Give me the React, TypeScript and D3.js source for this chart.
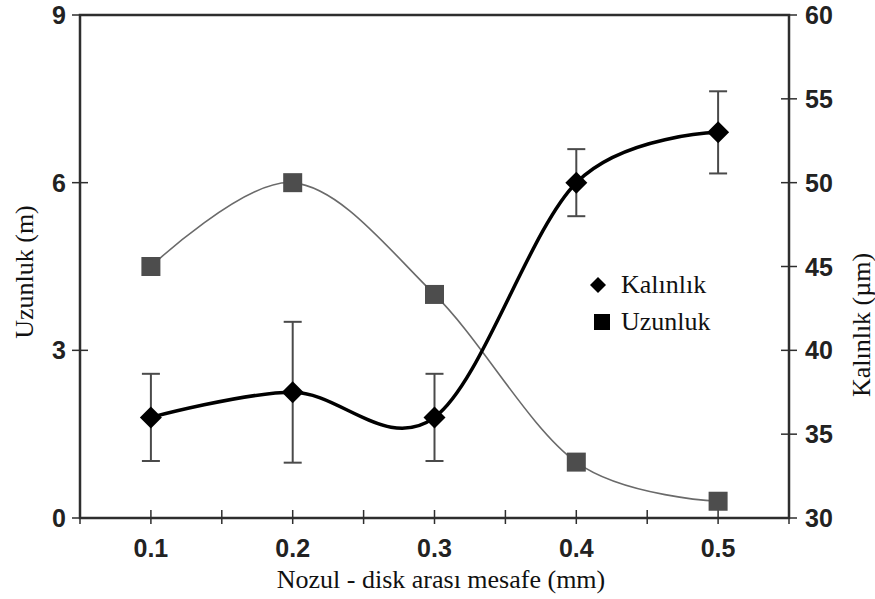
import React from "react";
import * as d3 from "d3";

// Nozzle–disk distance (mm)
const distances = [0.1, 0.2, 0.3, 0.4, 0.5];
// Fibre length (m), left axis
const uzunluk = [4.5, 6.0, 4.0, 1.0, 0.3];
// Fibre thickness (µm), right axis, with error bars
const kalinlik = [36, 37.5, 36, 50, 53];
const kalinlikErr = [2.6, 4.2, 2.6, 2.0, 2.45];

const xTicks = [0.05, 0.1, 0.15, 0.2, 0.25, 0.3, 0.35, 0.4, 0.45, 0.5, 0.55];
const xLabels = [0.1, 0.2, 0.3, 0.4, 0.5];
const leftTicks = [0, 3, 6, 9];
const rightTicks = [30, 35, 40, 45, 50, 55, 60];

const W = 875;
const H = 599;
const left = 80;
const right = 789;
const top = 15;
const bottom = 518;

const sansBold = "'Liberation Sans', Arial, sans-serif";
const serif = "'Liberation Serif', 'Times New Roman', serif";

export default function App() {
  const x = d3.scaleLinear().domain([0.05, 0.55]).range([left, right]);
  const yL = d3.scaleLinear().domain([0, 9]).range([bottom, top]);
  const yR = d3.scaleLinear().domain([30, 60]).range([bottom, top]);

  const uzLine = d3
    .line<number>()
    .x((_, i) => x(distances[i]))
    .y((d) => yL(d))
    .curve(d3.curveCardinal.tension(0));

  const kaLine = d3
    .line<number>()
    .x((_, i) => x(distances[i]))
    .y((d) => yR(d))
    .curve(d3.curveCardinal.tension(0));

  const diamond = (cx: number, cy: number, r: number) =>
    `M${cx},${cy - r}L${cx + r},${cy}L${cx},${cy + r}L${cx - r},${cy}Z`;

  const axisColor = "#2e2e2e";
  const tickLen = 8;

  return (
    <svg
      width={W}
      height={H}
      style={{ position: "absolute", left: 0, top: 0, background: "#fff" }}
    >
      {/* plot frame */}
      <rect
        x={left}
        y={top}
        width={right - left}
        height={bottom - top}
        fill="none"
        stroke={axisColor}
        strokeWidth={2.5}
      />

      {/* x ticks */}
      {xTicks.map((t) => (
        <line
          key={`xt${t}`}
          x1={x(t)}
          x2={x(t)}
          y1={bottom - tickLen}
          y2={bottom + tickLen - 2}
          stroke={axisColor}
          strokeWidth={1.5}
        />
      ))}
      {xLabels.map((t) => (
        <text
          key={`xl${t}`}
          x={x(t)}
          y={557}
          textAnchor="middle"
          fontFamily={sansBold}
          fontWeight="bold"
          fontSize={25}
          fill="#222"
        >
          {t.toFixed(1)}
        </text>
      ))}

      {/* left ticks */}
      {leftTicks.map((t) => (
        <g key={`lt${t}`}>
          <line
            x1={left - tickLen}
            x2={left + tickLen}
            y1={yL(t)}
            y2={yL(t)}
            stroke={axisColor}
            strokeWidth={1.5}
          />
          <text
            x={66}
            y={yL(t) + 9}
            textAnchor="end"
            fontFamily={sansBold}
            fontWeight="bold"
            fontSize={25}
            fill="#222"
          >
            {t}
          </text>
        </g>
      ))}

      {/* right ticks */}
      {rightTicks.map((t) => (
        <g key={`rt${t}`}>
          <line
            x1={right - tickLen}
            x2={right + tickLen}
            y1={yR(t)}
            y2={yR(t)}
            stroke={axisColor}
            strokeWidth={1.5}
          />
          <text
            x={805}
            y={yR(t) + 9}
            textAnchor="start"
            fontFamily={sansBold}
            fontWeight="bold"
            fontSize={25}
            fill="#222"
          >
            {t}
          </text>
        </g>
      ))}

      {/* axis titles */}
      <text
        x={441}
        y={588}
        textAnchor="middle"
        fontFamily={serif}
        fontSize={26}
        fill="#111"
      >
        Nozul - disk arası mesafe (mm)
      </text>
      <text
        transform="translate(33,272) rotate(-90)"
        textAnchor="middle"
        fontFamily={serif}
        fontSize={26}
        fill="#111"
      >
        Uzunluk (m)
      </text>
      <text
        transform="translate(870,325) rotate(-90)"
        textAnchor="middle"
        fontFamily={serif}
        fontSize={26}
        fill="#111"
      >
        Kalınlık (µm)
      </text>

      {/* length series */}
      <path
        d={uzLine(uzunluk) ?? ""}
        fill="none"
        stroke="#6a6a6a"
        strokeWidth={1.6}
      />
      {uzunluk.map((v, i) => (
        <rect
          key={`sq${i}`}
          x={x(distances[i]) - 9.5}
          y={yL(v) - 9.5}
          width={19}
          height={19}
          fill="#4d4d4d"
        />
      ))}

      {/* thickness error bars */}
      {kalinlik.map((v, i) => {
        const cx = x(distances[i]);
        const y1 = yR(v + kalinlikErr[i]);
        const y2 = yR(v - kalinlikErr[i]);
        return (
          <g key={`eb${i}`} stroke="#4a4a4a" strokeWidth={2}>
            <line x1={cx} x2={cx} y1={y1} y2={y2} />
            <line x1={cx - 9} x2={cx + 9} y1={y1} y2={y1} />
            <line x1={cx - 9} x2={cx + 9} y1={y2} y2={y2} />
          </g>
        );
      })}

      {/* thickness series */}
      <path
        d={kaLine(kalinlik) ?? ""}
        fill="none"
        stroke="#000"
        strokeWidth={3.5}
      />
      {kalinlik.map((v, i) => (
        <path
          key={`dm${i}`}
          d={diamond(x(distances[i]), yR(v), 11)}
          fill="#000"
        />
      ))}

      {/* legend */}
      <path d={diamond(598, 285, 8)} fill="#000" />
      <text x={621} y={293} fontFamily={serif} fontSize={26} fill="#111">
        Kalınlık
      </text>
      <rect x={594} y={314} width={16} height={16} fill="#000" />
      <text x={621} y={330} fontFamily={serif} fontSize={26} fill="#111">
        Uzunluk
      </text>
    </svg>
  );
}
